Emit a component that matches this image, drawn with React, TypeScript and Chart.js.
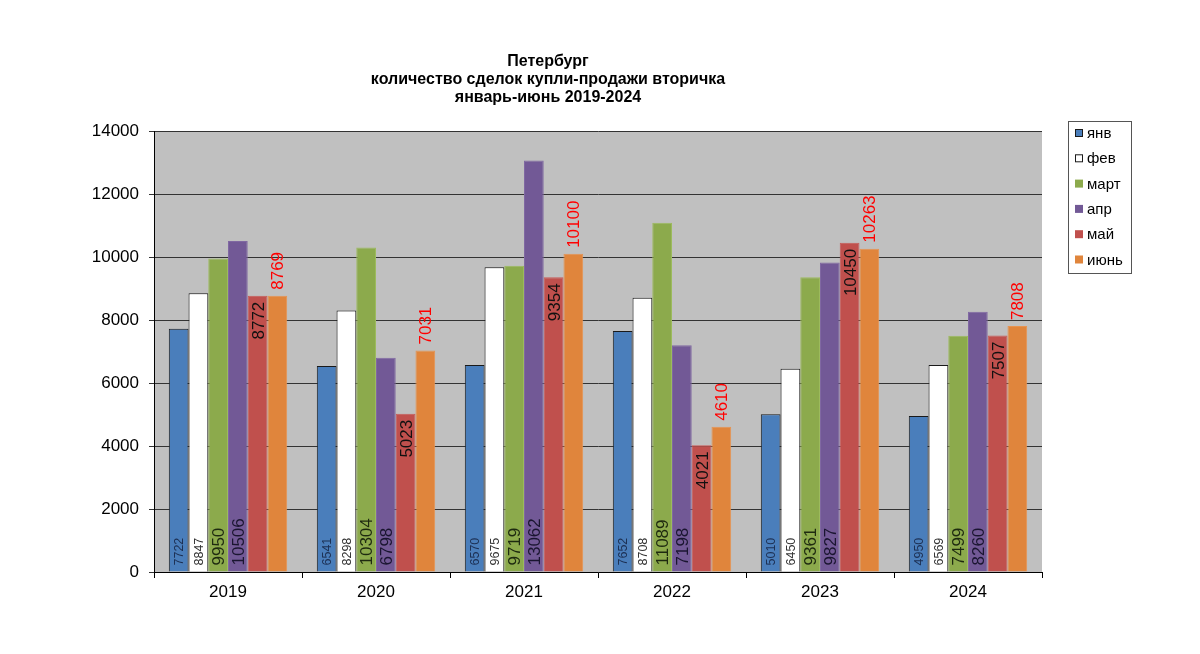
import React, { useEffect, useRef } from 'react';
import { Chart, registerables } from 'chart.js';

Chart.register(...registerables);

const FONT = "'Liberation Sans', Arial, sans-serif";

const years = ['2019', '2020', '2021', '2022', '2023', '2024'];
const seriesNames = ['янв', 'фев', 'март', 'апр', 'май', 'июнь'];
const janValues = [7722, 6541, 6570, 7652, 5010, 4950];
const febValues = [8847, 8298, 9675, 8708, 6450, 6569];
const marValues = [9950, 10304, 9719, 11089, 9361, 7499];
const aprValues = [10506, 6798, 13062, 7198, 9827, 8260];
const mayValues = [8772, 5023, 9354, 4021, 10450, 7507];
const junValues = [8769, 7031, 10100, 4610, 10263, 7808];
const yTickValues = [0, 2000, 4000, 6000, 8000, 10000, 12000, 14000];
const titleLines = [
  'Петербург',
  'количество сделок купли-продажи вторичка',
  'январь-июнь 2019-2024',
];

const fills = ['#4a7ebb', '#ffffff', '#8caa4c', '#725996', '#c0504d', '#e0853c'];
const borders = ['#1a1a1a', '#1a1a1a', '#9cbb5c', '#8068a2', '#c85a57', '#e8934f'];
const labelPos = ['base', 'base', 'base', 'base', 'insideEnd', 'outsideEnd'];
const labelSize = [12.5, 12.5, 17, 17, 17, 17];
const labelColor = ['#1c2f52', '#333333', '#1e2a10', '#1a1530', '#111111', '#ff0000'];

const bgPlugin = {
  id: 'plotBg',
  beforeDraw(chart: any) {
    const { ctx, chartArea: a } = chart;
    ctx.save();
    ctx.fillStyle = '#ffffff';
    ctx.fillRect(0, 0, chart.width, chart.height);
    ctx.fillStyle = '#c0c0c0';
    ctx.fillRect(a.left, a.top, a.right - a.left, a.bottom - a.top);
    ctx.restore();
  },
};

const labelPlugin = {
  id: 'barLabels',
  afterDatasetsDraw(chart: any) {
    const ctx = chart.ctx;
    chart.data.datasets.forEach((ds: any, i: number) => {
      const meta = chart.getDatasetMeta(i);
      const size = labelSize[i];
      meta.data.forEach((bar: any, j: number) => {
        const p = bar.getProps(['x', 'y', 'base'], true);
        const text = String(ds.data[j]);
        ctx.save();
        ctx.font = `${size}px ${FONT}`;
        ctx.fillStyle = labelColor[i];
        ctx.textBaseline = 'alphabetic';
        let ay = p.base - 6;
        let align: CanvasTextAlign = 'left';
        if (labelPos[i] === 'insideEnd') {
          ay = p.y + 6;
          align = 'right';
        } else if (labelPos[i] === 'outsideEnd') {
          ay = p.y - 6;
          align = 'left';
        }
        ctx.translate(p.x + size * 0.36, ay);
        ctx.rotate(-Math.PI / 2);
        ctx.textAlign = align;
        ctx.fillText(text, 0, 0);
        ctx.restore();
      });
    });
  },
};

const decorPlugin = {
  id: 'decor',
  afterDraw(chart: any) {
    const ctx = chart.ctx;
    ctx.save();
    // title
    ctx.fillStyle = '#000';
    ctx.font = `bold 16px ${FONT}`;
    ctx.textAlign = 'center';
    ctx.textBaseline = 'middle';
    titleLines.forEach((t, k) => ctx.fillText(t, 548, 61.5 + k * 17.8));
    // legend
    const lx = 1068, ly = 121, lw = 63, lh = 152;
    ctx.strokeStyle = '#555';
    ctx.lineWidth = 1;
    ctx.strokeRect(lx + 0.5, ly + 0.5, lw, lh);
    ctx.font = `15px ${FONT}`;
    ctx.textAlign = 'left';
    seriesNames.forEach((name, k) => {
      const cy = 133 + k * 25.3;
      ctx.fillStyle = fills[k];
      ctx.fillRect(1075, cy - 4, 8, 8);
      if (k < 2) {
        ctx.strokeStyle = '#1a1a1a';
        ctx.strokeRect(1075.5, cy - 3.5, 7, 7);
      }
      ctx.fillStyle = '#000';
      ctx.fillText(name, 1087, cy + 1);
    });
    ctx.restore();
  },
};

export default function App() {
  const ref = useRef<HTMLCanvasElement>(null);
  useEffect(() => {
    if (!ref.current) return;
    const series = [janValues, febValues, marValues, aprValues, mayValues, junValues];
    const chart = new Chart(ref.current, {
      type: 'bar',
      data: {
        labels: years,
        datasets: series.map((vals, i) => ({
          label: seriesNames[i],
          data: vals,
          backgroundColor: fills[i],
          borderColor: borders[i],
          borderWidth: 1,
          categoryPercentage: 0.8,
          barPercentage: 1,
        })),
      },
      options: {
        responsive: false,
        animation: false,
        layout: { padding: { left: 0, top: 131, right: 158, bottom: 0 } },
        plugins: {
          legend: { display: false },
          title: { display: false },
          tooltip: { enabled: false },
        },
        scales: {
          x: {
            grid: { offset: true, drawOnChartArea: false, tickLength: 6, color: '#000' },
            border: { color: '#000', width: 1 },
            ticks: { color: '#000', font: { family: FONT, size: 17 }, padding: 4 },
            afterFit(scale: any) {
              scale.height = 82;
            },
          },
          y: {
            min: 0,
            max: 14000,
            afterBuildTicks(scale: any) {
              scale.ticks = yTickValues.map((v) => ({ value: v }));
            },
            grid: { color: '#333', tickLength: 5, lineWidth: 1 },
            border: { color: '#000', width: 1 },
            ticks: {
              color: '#000',
              font: { family: FONT, size: 17 },
              padding: 10,
              callback: (v: any) => String(v),
            },
            afterFit(scale: any) {
              scale.width = 154;
            },
          },
        },
      },
      plugins: [bgPlugin, labelPlugin, decorPlugin],
    });
    return () => chart.destroy();
  }, []);
  return (
    <div style={{ position: 'fixed', left: 0, top: 0, width: 1200, height: 654, background: '#fff' }}>
      <canvas ref={ref} width={1200} height={654} style={{ display: 'block' }} />
    </div>
  );
}
